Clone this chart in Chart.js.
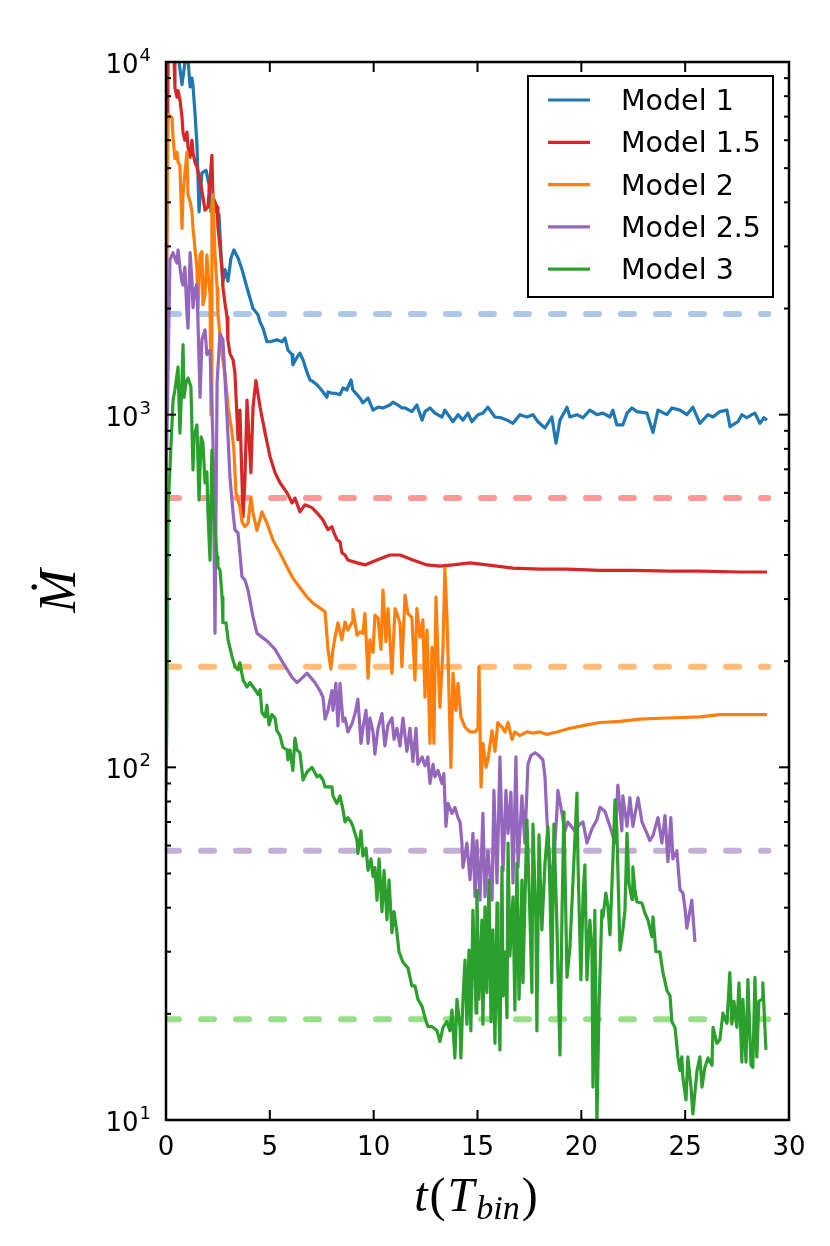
<!DOCTYPE html>
<html>
<head>
<meta charset="utf-8">
<script src="https://cdn.jsdelivr.net/npm/chart.js@4.4.1/dist/chart.umd.min.js"></script>
<style>
  body { margin: 0; background: #fff; }
  canvas { display: block; background: #fff; }
</style>
</head>
<body>
<canvas id="grafica" width="830" height="1246"></canvas>
<script>
// lecturas [t, Mdot] de cada modelo
const model1 = [[0.45,13000],[0.58,10500],[0.77,8630],[0.91,9950],[1.06,10200],[1.16,8500],[1.25,9000],[1.30,8550],[1.40,7100],[1.49,5830],[1.59,3760],[1.73,4850],[1.93,4930],[2.07,4490],[2.17,3760],[2.26,4070],[2.41,3760],[2.55,3690],[2.65,2840],[2.74,2390],[2.84,2580],[2.98,2390],[3.13,2780],[3.27,2930],[3.47,2780],[3.66,2580],[3.90,2290],[4.19,2000],[4.43,1920],[4.53,1830],[4.67,1760],[4.86,1610],[5.01,1610],[5.34,1630],[5.59,1610],[5.73,1650],[5.87,1525],[6.07,1480],[6.11,1385],[6.31,1455],[6.45,1495],[6.60,1430],[6.79,1320],[6.93,1255],[7.08,1240],[7.27,1215],[7.41,1190],[7.56,1160],[7.75,1120],[7.80,1160],[7.99,1150],[8.14,1150],[8.38,1140],[8.52,1190],[8.71,1175],[8.91,1255],[9.00,1175],[9.20,1140],[9.34,1115],[9.48,1080],[9.73,1115],[9.97,1030],[10.21,1050],[10.45,1045],[10.78,1065],[10.93,1085],[11.17,1065],[11.36,1045],[11.51,1045],[11.84,1020],[12.08,1065],[12.33,965],[12.47,1020],[12.71,1045],[12.95,1010],[13.29,985],[13.43,1030],[13.82,955],[14.06,1000],[14.30,965],[14.54,1010],[14.73,955],[15.02,1000],[15.26,1010],[15.50,1050],[15.84,985],[16.13,980],[16.42,965],[16.71,945],[17.04,1000],[17.38,985],[17.67,1000],[17.91,955],[18.25,917],[18.58,985],[18.78,830],[18.97,965],[19.31,1050],[19.45,985],[19.79,1000],[20.08,980],[20.41,1030],[20.75,1000],[21.04,1010],[21.38,985],[21.52,1030],[21.71,935],[22.00,935],[22.20,1010],[22.44,1045],[22.68,1020],[23.16,1010],[23.45,890],[23.69,1030],[24.12,1000],[24.36,1045],[24.75,1030],[25.08,1000],[25.37,1050],[25.71,945],[26.10,1000],[26.34,985],[26.67,1020],[27.01,1030],[27.16,925],[27.54,955],[27.73,1000],[27.97,980],[28.21,1000],[28.36,1010],[28.60,945],[28.79,980],[28.94,965]];

const model15 = [[0,1500],[0.10,10000],[0.19,11500],[0.29,10300],[0.39,10000],[0.43,8450],[0.53,7950],[0.58,8300],[0.67,7800],[0.77,7000],[0.82,6300],[0.91,6000],[1.01,6330],[1.06,5740],[1.16,5370],[1.25,6000],[1.30,5530],[1.40,5180],[1.49,5040],[1.64,4620],[1.78,4140],[1.88,3800],[2.02,3880],[2.21,5440],[2.26,4140],[2.46,3880],[2.50,3400],[2.60,2990],[2.70,2570],[2.74,2300],[2.84,2070],[2.94,1890],[2.98,1630],[3.08,1490],[3.23,1430],[3.32,1310],[3.47,850],[3.56,1030],[3.71,513],[3.80,650],[3.90,1100],[4.00,850],[4.09,685],[4.19,1050],[4.33,1250],[4.53,1050],[4.77,888],[5.01,760],[5.25,685],[5.49,641],[5.83,600],[6.07,562],[6.21,580],[6.45,530],[6.69,555],[7.03,545],[7.27,527],[7.56,503],[7.80,472],[7.99,481],[8.09,462],[8.23,442],[8.38,436],[8.47,406],[8.62,400],[8.76,387],[9.20,380],[9.58,375],[10.16,387],[10.78,400],[11.27,400],[11.89,387],[12.57,375],[13.19,372],[13.82,375],[14.64,380],[15.45,375],[16.71,367],[18.01,365],[19.31,365],[20.90,362],[22.48,362],[24.27,360],[25.71,360],[27.64,358],[28.94,358]];

const model2 = [[0,1800],[0.10,7100],[0.29,6950],[0.34,6100],[0.43,5320],[0.53,5550],[0.58,5200],[0.67,5100],[0.77,3380],[0.82,4200],[0.91,4850],[1.01,5550],[1.06,4200],[1.16,4020],[1.25,3760],[1.30,3380],[1.49,2600],[1.54,2000],[1.64,2840],[1.73,2900],[1.78,2050],[1.88,2190],[1.97,2840],[2.02,2540],[2.12,2190],[2.17,1000],[2.21,3940],[2.26,4210],[2.36,2840],[2.46,2290],[2.50,1920],[2.70,1480],[2.84,1310],[2.99,1050],[3.18,888],[3.27,794],[3.37,600],[3.47,573],[3.56,548],[3.66,497],[3.80,481],[3.95,493],[4.09,584],[4.19,526],[4.38,470],[4.62,530],[4.86,493],[5.15,441],[5.49,405],[5.83,370],[6.11,344],[6.45,323],[6.79,304],[7.08,292],[7.41,283],[7.66,276],[7.80,216],[7.94,190],[8.04,216],[8.14,234],[8.28,257],[8.47,230],[8.62,258],[8.76,245],[8.96,258],[9.00,280],[9.20,237],[9.34,242],[9.48,240],[9.58,273],[9.73,179],[9.82,230],[9.97,212],[10.06,270],[10.21,265],[10.35,216],[10.45,318],[10.59,227],[10.69,282],[10.88,185],[11.03,282],[11.12,273],[11.27,256],[11.36,193],[11.51,308],[11.65,273],[11.84,266],[11.99,177],[12.08,282],[12.23,234],[12.37,262],[12.47,158],[12.57,245],[12.71,117],[12.81,219],[12.90,117],[13.00,304],[13.10,202],[13.19,148],[13.34,219],[13.43,367],[13.53,266],[13.72,100],[13.82,185],[13.96,145],[14.06,173],[14.20,139],[14.40,130],[14.64,126],[14.88,126],[15.02,129],[15.07,193],[15.17,88],[15.26,117],[15.41,100],[15.50,105],[15.70,127],[15.84,111],[15.98,134],[16.18,130],[16.32,126],[16.47,134],[16.66,120],[16.80,126],[17.04,123],[17.38,126],[17.67,125],[18.01,126],[18.34,124],[18.82,126],[19.45,129],[20.27,132],[20.90,134],[21.86,135],[22.82,137],[24.12,138],[25.71,139],[26.67,141],[27.64,141],[28.94,141]];

const model25 = [[0,600],[0.19,2750],[0.34,2880],[0.43,2780],[0.53,2690],[0.58,2930],[0.67,2620],[0.77,2370],[0.82,2330],[0.91,2620],[1.01,1930],[1.06,1760],[1.16,2880],[1.25,2400],[1.30,2010],[1.40,2270],[1.49,2340],[1.54,1830],[1.64,1120],[1.73,1630],[1.88,1740],[1.97,1480],[2.12,1520],[2.26,850],[2.36,240],[2.46,1230],[2.60,1700],[2.74,1630],[2.94,985],[3.08,665],[3.23,527],[3.32,471],[3.47,462],[3.66,347],[3.80,340],[3.95,318],[4.19,267],[4.38,240],[4.62,234],[4.91,227],[5.25,216],[5.63,198],[6.07,180],[6.31,174],[6.55,179],[6.79,185],[7.17,174],[7.41,165],[7.56,158],[7.66,137],[7.80,145],[7.99,165],[8.04,145],[8.18,173],[8.28,131],[8.38,173],[8.52,135],[8.62,138],[8.76,126],[8.96,133],[9.10,142],[9.24,156],[9.39,117],[9.48,129],[9.63,145],[9.73,117],[9.82,138],[9.97,126],[10.06,109],[10.21,129],[10.40,142],[10.54,115],[10.69,132],[10.88,138],[10.98,120],[11.12,129],[11.27,115],[11.41,138],[11.60,111],[11.75,129],[11.89,104],[12.04,129],[12.13,102],[12.33,107],[12.47,101],[12.61,107],[12.71,90],[12.86,102],[12.95,94],[13.10,98],[13.29,90],[13.38,96],[13.48,68],[13.58,79],[13.77,74],[13.91,77],[14.06,72],[14.16,70],[14.25,61],[14.30,52],[14.49,61],[14.64,48],[14.78,65],[14.88,43],[14.97,62],[15.12,42],[15.26,74],[15.36,43],[15.50,58],[15.70,42],[15.79,86],[15.94,47],[16.08,107],[16.23,51],[16.37,86],[16.47,65],[16.61,85],[16.71,47],[16.85,107],[16.95,52],[17.14,83],[17.28,61],[17.43,102],[17.57,108],[17.77,110],[17.96,108],[18.15,105],[18.25,94],[18.34,72],[18.44,58],[18.58,45],[18.82,74],[18.87,86],[19.07,74],[19.21,66],[19.35,70],[19.69,66],[19.93,69],[20.08,70],[20.27,61],[20.51,67],[20.75,71],[20.90,77],[21.14,75],[21.38,68],[21.62,61],[21.76,89],[21.95,66],[22.00,83],[22.20,68],[22.34,82],[22.48,68],[22.73,82],[22.92,70],[23.16,65],[23.30,62],[23.45,64],[23.69,72],[23.88,61],[24.03,73],[24.17,54],[24.31,72],[24.41,55],[24.60,58],[24.75,45],[24.89,44],[24.99,40],[25.08,35],[25.32,42],[25.47,32]];

const model3 = [[0,86],[0.05,155],[0.10,548],[0.19,700],[0.34,1100],[0.43,1175],[0.58,1365],[0.67,887],[0.77,1255],[0.82,1580],[0.87,1120],[0.96,1230],[1.06,1270],[1.20,1200],[1.30,697],[1.35,865],[1.49,935],[1.59,573],[1.69,865],[1.78,832],[1.88,640],[1.97,688],[2.02,526],[2.12,387],[2.21,794],[2.26,584],[2.36,471],[2.46,395],[2.50,370],[2.60,363],[2.70,304],[2.74,257],[2.89,257],[2.99,230],[3.18,206],[3.32,193],[3.47,189],[3.56,198],[3.71,177],[3.90,169],[4.04,174],[4.29,166],[4.43,161],[4.53,166],[4.62,143],[4.77,139],[4.86,150],[4.96,132],[5.10,141],[5.25,138],[5.34,127],[5.49,123],[5.63,114],[5.83,112],[5.87,105],[5.97,112],[6.11,98],[6.21,121],[6.31,112],[6.45,110],[6.60,92],[6.79,97],[7.03,100],[7.27,94],[7.41,95],[7.56,92],[7.66,88],[7.80,88],[7.99,88],[8.04,83],[8.23,79],[8.38,83],[8.52,76],[8.62,70],[8.76,72],[8.91,70],[9.00,68],[9.20,62],[9.24,57],[9.39,66],[9.48,56],[9.63,59],[9.73,51],[9.87,55],[9.97,49],[10.06,52],[10.16,42],[10.26,55],[10.40,39],[10.50,51],[10.64,37],[10.74,48],[10.88,34],[10.98,39],[11.12,34],[11.22,30],[11.41,28],[11.65,27],[11.84,24],[11.99,24],[12.13,22],[12.33,21],[12.47,19.5],[12.61,18.4],[12.81,18.4],[13.05,17.9],[13.19,16.7],[13.34,18.3],[13.53,19.0],[13.67,17.9],[13.77,20.5],[13.91,15.0],[14.01,22.0],[14.16,18.3],[14.20,15.0],[14.30,22.0],[14.40,28.4],[14.49,18.7],[14.59,30.3],[14.68,17.9],[14.78,39.3],[14.93,20.1],[14.97,44.8],[15.07,22.0],[15.21,36.9],[15.26,18.7],[15.36,40.2],[15.45,23.0],[15.55,47.9],[15.65,19.0],[15.74,34.6],[15.84,16.5],[15.94,41.2],[15.98,25.0],[16.08,15.8],[16.18,52.2],[16.23,22.5],[16.32,30.0],[16.42,19.5],[16.47,61.0],[16.56,29.2],[16.71,42.9],[16.80,20.5],[16.90,53.5],[17.00,22.0],[17.14,47.9],[17.19,24.5],[17.38,71.0],[17.53,36.9],[17.62,23.0],[17.67,69.0],[17.81,36.9],[17.86,17.9],[17.96,64.3],[18.10,34.6],[18.25,53.5],[18.39,67.8],[18.49,44.8],[18.58,24.5],[18.68,69.0],[18.83,34.6],[18.97,15.3],[19.07,38.6],[19.16,74.8],[19.31,25.4],[19.45,30.8],[19.60,47.9],[19.79,84.5],[19.84,53.5],[19.98,25.0],[20.08,42.9],[20.17,52.9],[20.27,25.0],[20.41,36.9],[20.51,30.8],[20.56,12.4],[20.65,39.3],[20.75,9.7],[20.85,21.0],[20.99,39.3],[21.04,37.6],[21.18,44.0],[21.28,40.2],[21.38,33.5],[21.52,54.6],[21.62,80.9],[21.71,66.3],[21.86,30.3],[22.00,34.6],[22.10,39.3],[22.20,65.0],[22.29,47.0],[22.44,42.2],[22.48,52.2],[22.58,44.8],[22.68,41.5],[22.92,41.2],[23.06,38.6],[23.21,36.9],[23.40,33.1],[23.45,37.7],[23.59,30.0],[23.78,30.0],[23.93,26.2],[24.12,23.3],[24.27,22.5],[24.36,19.0],[24.51,18.3],[24.65,15.1],[24.75,13.8],[24.84,15.1],[24.89,13.2],[25.04,11.4],[25.13,15.1],[25.28,12.4],[25.37,10.4],[25.57,13.8],[25.71,15.1],[25.81,12.4],[25.95,14.1],[26.10,15.0],[26.29,14.3],[26.34,18.3],[26.53,16.5],[26.67,16.9],[26.82,20.1],[27.01,18.8],[27.15,26.2],[27.25,18.7],[27.35,21.7],[27.49,18.3],[27.59,24.5],[27.73,14.6],[27.78,22.0],[27.93,14.6],[28.02,25.0],[28.17,14.3],[28.26,14.1],[28.36,25.4],[28.45,15.1],[28.55,21.7],[28.70,22.0],[28.74,24.5],[28.89,15.8]];

// niveles de referencia (lineas discontinuas), hasta t = 29
const niveles = [1930, 580, 193, 58, 19.3];
const tFinal = 29;

const nombres = ["Model 1", "Model 1.5", "Model 2", "Model 2.5", "Model 3"];
const colores = ["#1f77b4", "#d62728", "#ff7f0e", "#9467bd", "#2ca02c"];
const coloresClaros = ["#aec7e8", "#ff9896", "#ffbb78", "#c5b0d5", "#98df8a"];

const xTicks = [0, 5, 10, 15, 20, 25, 30];
const yTicks = [10, 100, 1000, 10000];
const yTickExp = ["1", "2", "3", "4"];

const series = [model1, model15, model2, model25, model3];

const datasets = [];
series.forEach((s, i) => {
  datasets.push({
    label: nombres[i],
    data: s.map(p => ({x: p[0], y: p[1]})),
    borderColor: colores[i],
    borderWidth: 3.2,
    borderJoinStyle: 'round',
    pointRadius: 0,
    order: 5 - i
  });
});
niveles.forEach((n, i) => {
  datasets.push({
    label: "ref " + nombres[i],
    data: [{x: 0, y: n}, {x: tFinal, y: n}],
    borderColor: coloresClaros[i],
    borderWidth: 6,
    borderDash: [13, 22],
    borderCapStyle: 'round',
    pointRadius: 0,
    order: 10
  });
});

const marco = {
  id: 'marco',
  afterDatasetsDraw(chart) {
    const {ctx, chartArea: a} = chart;
    const sx = chart.scales.x, sy = chart.scales.y;
    ctx.save();
    ctx.strokeStyle = '#000';
    ctx.lineWidth = 2;
    const seg = (x1, y1, x2, y2) => { ctx.beginPath(); ctx.moveTo(x1, y1); ctx.lineTo(x2, y2); ctx.stroke(); };

    // ticks x (hacia dentro, arriba y abajo)
    xTicks.forEach(v => {
      const px = sx.getPixelForValue(v);
      seg(px, a.bottom, px, a.bottom - 10);
      seg(px, a.top, px, a.top + 10);
    });
    // ticks y log, mayores y menores
    for (let k = 1; k <= 3; k++) {
      for (let m = 1; m <= 9; m++) {
        const py = sy.getPixelForValue(m * Math.pow(10, k));
        const len = m === 1 ? 10 : 5;
        seg(a.left, py, a.left + len, py);
        seg(a.right, py, a.right - len, py);
      }
    }
    const pTop = sy.getPixelForValue(10000);
    seg(a.left, pTop, a.left + 10, pTop);
    seg(a.right, pTop, a.right - 10, pTop);

    // marco
    ctx.lineWidth = 2.5;
    ctx.strokeRect(a.left, a.top, a.right - a.left, a.bottom - a.top);

    // etiquetas x
    ctx.fillStyle = '#000';
    ctx.font = "26px 'DejaVu Sans'";
    ctx.textAlign = 'center';
    ctx.textBaseline = 'alphabetic';
    xTicks.forEach(v => ctx.fillText(String(v), sx.getPixelForValue(v), a.bottom + 35));

    // etiquetas y: 10^k
    yTicks.forEach((v, i) => {
      const py = sy.getPixelForValue(v);
      ctx.font = "18px 'DejaVu Sans'";
      const wSup = ctx.measureText(yTickExp[i]).width;
      ctx.textAlign = 'right';
      ctx.fillText(yTickExp[i], a.left - 15, py - 1);
      ctx.font = "26px 'DejaVu Sans'";
      ctx.fillText("10", a.left - 15 - wSup - 1, py + 11);
    });

    // etiqueta eje y
    ctx.save();
    ctx.translate(75, (a.top + a.bottom) / 2);
    ctx.rotate(-Math.PI / 2);
    ctx.textAlign = 'center';
    ctx.font = "italic 52px 'Liberation Serif', 'DejaVu Serif'";
    ctx.fillText("Ṁ", 0, 0);
    ctx.restore();

    // etiqueta eje x: t(T_bin)
    const big = "italic 48px 'Liberation Serif'";
    const up = "48px 'Liberation Serif'";
    const small = "italic 34px 'Liberation Serif'";
    const partes = [["t", big, 0], ["(", up, 0], ["T", big, 0], ["bin", small, 8], [")", up, 0]];
    let total = 0;
    partes.forEach(p => { ctx.font = p[1]; total += ctx.measureText(p[0]).width + 2; });
    let cx = 477 - total / 2;
    ctx.textAlign = 'left';
    partes.forEach(p => {
      ctx.font = p[1];
      ctx.fillText(p[0], cx, 1211 + p[2]);
      cx += ctx.measureText(p[0]).width + 2;
    });

    // leyenda
    const lx = 528, ly = 76, lw = 245, lh = 221;
    ctx.fillStyle = '#fff';
    ctx.fillRect(lx, ly, lw, lh);
    ctx.lineWidth = 2;
    ctx.strokeStyle = '#000';
    ctx.strokeRect(lx, ly, lw, lh);
    ctx.font = "28.5px 'DejaVu Sans'";
    ctx.textAlign = 'left';
    nombres.forEach((n, i) => {
      const yy = 100 + i * 42.3;
      ctx.strokeStyle = colores[i];
      ctx.lineWidth = 3.2;
      seg(548, yy, 590, yy);
      ctx.fillStyle = '#000';
      ctx.fillText(n, 621, yy + 10);
    });
    ctx.restore();
  }
};

const ctx = document.getElementById("grafica").getContext("2d");
const chart = new Chart(ctx, {
  type: 'line',
  data: { datasets: datasets },
  options: {
    responsive: false,
    animation: false,
    layout: { padding: { left: 166, right: 41, top: 62, bottom: 126 } },
    plugins: { legend: { display: false }, tooltip: { enabled: false } },
    elements: { line: { tension: 0 } },
    scales: {
      x: { type: 'linear', min: 0, max: 30, display: false },
      y: { type: 'logarithmic', min: 10, max: 10000, display: false }
    }
  },
  plugins: [marco]
});
</script>
</body>
</html>
